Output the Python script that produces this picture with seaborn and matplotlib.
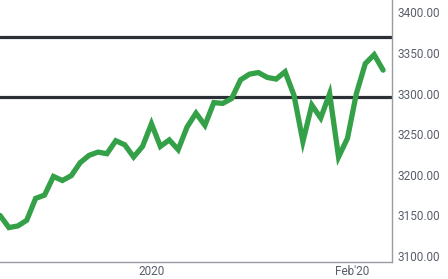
import matplotlib
matplotlib.use("Agg")
import matplotlib.pyplot as plt
import seaborn as sns
import pandas as pd

values = [3150, 3135, 3137, 3144, 3171, 3175, 3198, 3193, 3199, 3215,
          3224, 3228, 3226, 3242, 3237, 3222, 3235, 3263, 3235, 3243,
          3231, 3259, 3276, 3261, 3289, 3288, 3294, 3317, 3324, 3326,
          3320, 3318, 3327, 3298, 3241, 3286, 3270, 3300, 3222, 3245,
          3300, 3337, 3348, 3329]
steps = list(range(len(values)))
levels = [3370, 3296]
xtick_pos = [17, 39.5]
xtick_labels = ["2020", "Feb'20"]
ytick_vals = [3100, 3150, 3200, 3250, 3300, 3350, 3400]

sns.set_theme(style="white")
plt.rcParams['font.family'] = ['Roboto', 'DejaVu Sans']

df = pd.DataFrame({"step": steps, "value": values})

fig = plt.figure(figsize=(4.48, 2.79), dpi=100)
ax = fig.add_axes([0.0, 1 - 262 / 279, 392 / 448, 262 / 279])

for lv in levels:
    ax.axhline(lv, color="#2b2f36", lw=2.3, zorder=1)

sns.lineplot(data=df, x="step", y="value", ax=ax, color="#34a048",
             lw=3.8, zorder=3, solid_joinstyle="miter")

ax.set_xlim(0, 44)
ax.set_ylim(3092.6, 3415.4)
ax.set_xlabel("")
ax.set_ylabel("")

ax.yaxis.tick_right()
ax.set_yticks(ytick_vals)
ax.set_yticklabels([f"{v:.2f}" for v in ytick_vals])
ax.set_xticks(xtick_pos)
ax.set_xticklabels(xtick_labels)
ax.tick_params(axis="both", length=0, labelsize=8.5, labelcolor="#5a5f6b")
ax.tick_params(axis="y", pad=4)
ax.tick_params(axis="x", pad=2)

for s in ["top", "left"]:
    ax.spines[s].set_visible(False)
for s in ["right", "bottom"]:
    ax.spines[s].set_color("#9a9ca3")
    ax.spines[s].set_linewidth(1.0)

fig.savefig("out.png", dpi=100)
